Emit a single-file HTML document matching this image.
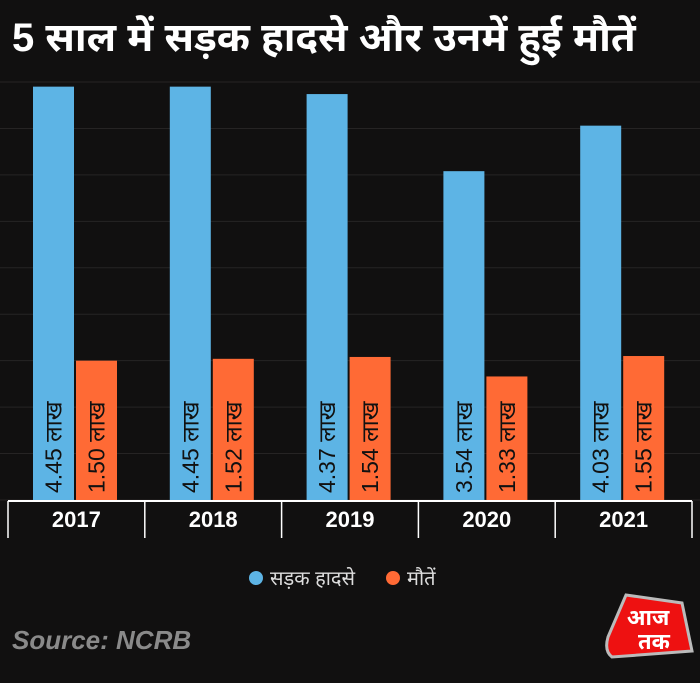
<!DOCTYPE html>
<html><head><meta charset="utf-8"><style>
html,body{margin:0;padding:0;background:#111010;}
body{width:700px;height:683px;overflow:hidden;position:relative;font-family:"Liberation Sans","Noto Sans Devanagari","Lohit Devanagari","FreeSans",sans-serif;}
#title{position:absolute;left:12px;top:16px;color:#fff;font-size:40px;font-weight:bold;white-space:nowrap;}
#src{position:absolute;left:12px;top:625px;color:#8a8a8a;font-size:26px;font-weight:bold;font-style:italic;}
</style></head><body>
<div id="title">5 साल में सड़क हादसे और उनमें हुई मौतें</div>
<svg id="chart" width="700" height="683" style="position:absolute;left:0;top:0"></svg>
<div id="src">Source: NCRB</div>
<svg width="90" height="70" style="position:absolute;left:604px;top:591px">
<path d="M22 4 L78 12 L88 60 L8 66 Q0 60 4 46 Z" fill="#e11" stroke="#bbb" stroke-width="3"/>
<text x="44" y="34" fill="#fff" font-size="22" font-weight="bold" text-anchor="middle">आज</text>
<text x="50" y="58" fill="#fff" font-size="22" font-weight="bold" text-anchor="middle">तक</text>
</svg>
<script>
const years=["2017","2018","2019","2020","2021"];
const accidents=[4.45,4.45,4.37,3.54,4.03];
const deaths=[1.50,1.52,1.54,1.33,1.55];
const yTicks=[0,0.5,1,1.5,2,2.5,3,3.5,4,4.5];
const NS="http://www.w3.org/2000/svg";
const svg=document.getElementById('chart');
const x0=8,x1=692,base=500,yTop=82,maxV=4.5;
const y=v=>base-(v/maxV)*(base-yTop);
const gw=(x1-x0)/years.length;
function mk(t,a,p){const e=document.createElementNS(NS,t);for(const k in a)e.setAttribute(k,a[k]);(p||svg).appendChild(e);return e;}
yTicks.forEach(t=>{const l=mk('line',{x1:0,x2:700,y1:y(t),y2:y(t),stroke:'#262424','stroke-width':1});

});
function bar(i,off,v,col,lbl){
 const bx=x0+i*gw+off,w=41;
 const r=mk('rect',{x:bx,y:y(v),width:w,height:base-y(v),fill:col});
 
 
 const cx=bx+w/2+8,cy=493;
 const t=mk('text',{x:cx,y:cy,fill:'#111','font-size':23,transform:`rotate(-90 ${cx} ${cy})`});
 t.textContent=v.toFixed(2)+' लाख';
 
 
}
years.forEach((yr,i)=>{
 bar(i,25,accidents[i],'#5db4e5','accidents');
 bar(i,68,deaths[i],'#ff6a35','deaths');
 const t=mk('text',{x:x0+i*gw+gw/2,y:527,fill:'#fff','font-size':22,'font-weight':'bold','text-anchor':'middle'});
 t.textContent=yr;
 
 
});
const ax=mk('line',{x1:x0,x2:x1,y1:501,y2:501,stroke:'#fff','stroke-width':2});


for(let i=0;i<=years.length;i++){const l=mk('line',{x1:x0+i*gw,x2:x0+i*gw,y1:501,y2:538,stroke:'#fff','stroke-width':1.5});

}
const lg=mk('g',{});


const c1=mk('circle',{cx:256,cy:578,r:7,fill:'#5db4e5'},lg);


const t1=mk('text',{x:270,y:585,fill:'#ddd','font-size':20},lg);t1.textContent='सड़क हादसे';


const c2=mk('circle',{cx:393,cy:578,r:7,fill:'#ff6a35'},lg);


const t2=mk('text',{x:407,y:585,fill:'#ddd','font-size':20},lg);t2.textContent='मौतें';


</script>
</body></html>
